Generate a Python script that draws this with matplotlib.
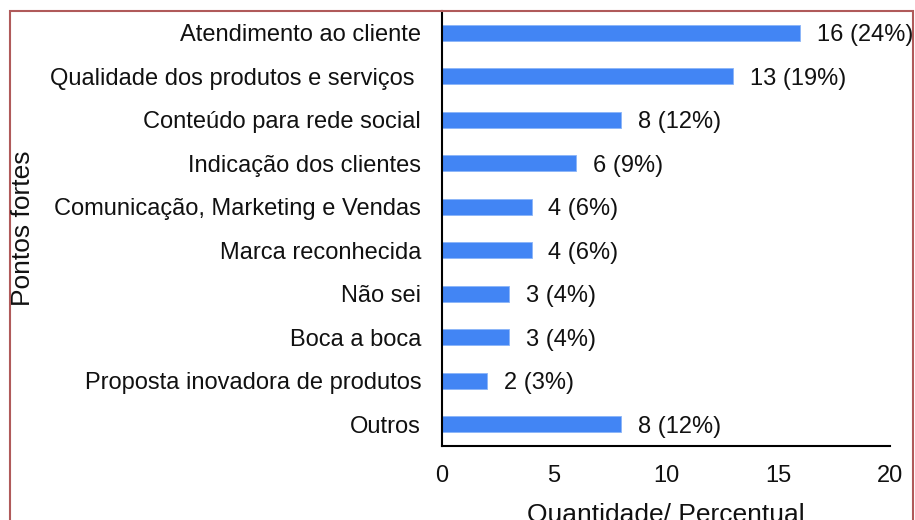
import matplotlib
matplotlib.use("Agg")
import matplotlib.pyplot as plt
from matplotlib.patches import Rectangle

categories = [
    "Atendimento ao cliente",
    "Qualidade dos produtos e serviços ",
    "Conteúdo para rede social",
    "Indicação dos clientes",
    "Comunicação, Marketing e Vendas",
    "Marca reconhecida",
    "Não sei",
    "Boca a boca",
    "Proposta inovadora de produtos",
    "Outros",
]
values = [16, 13, 8, 6, 4, 4, 3, 3, 2, 8]
percents = ["24%", "19%", "12%", "9%", "6%", "6%", "4%", "4%", "3%", "12%"]
xticks = [0, 5, 10, 15, 20]

plt.rcParams["font.family"] = ["Liberation Sans", "DejaVu Sans"]

W, H = 915, 520
fig = plt.figure(figsize=(W / 100, H / 100), dpi=100)
ax = fig.add_axes([442 / W, 1 - 446 / H, (890 - 442) / W, (446 - 11) / H])

y = list(range(len(categories)))
ax.barh(y, values, height=0.37, color="#4285F4", edgecolor="#8AB4F8", linewidth=0.6)
for yi, v, p in zip(y, values, percents):
    ax.text(v + 0.75, yi, f"{v} ({p})", va="center_baseline", ha="left",
            fontsize=17, color="#111111")

ax.set_ylim(len(categories) - 0.5, -0.5)
ax.set_xlim(0, 20)
ax.set_yticks(y)
ax.set_yticklabels(categories, fontsize=17, color="#111111")
ax.set_xticks(xticks)
ax.set_xticklabels([str(t) for t in xticks], fontsize=17, color="#111111")
ax.tick_params(axis="both", length=0)
ax.tick_params(axis="y", pad=15)
ax.tick_params(axis="x", pad=14)
for s in ["top", "right"]:
    ax.spines[s].set_visible(False)
for s in ["left", "bottom"]:
    ax.spines[s].set_linewidth(1.5)
    ax.spines[s].set_color("black")

ax.set_xlabel("Quantidade/ Percentual", fontsize=19, labelpad=11, color="#111111")
fig.text(23 / W, 1 - 228 / H, "Pontos fortes", rotation=90, fontsize=19,
         ha="center", va="center", color="#111111")

fig.patches.append(Rectangle((10 / W, -0.1), (913 - 10) / W, (1 - 11 / H) + 0.1,
                             transform=fig.transFigure, fill=False,
                             edgecolor="#B05A5A", linewidth=1.5))

fig.savefig("out.png", dpi=100)
